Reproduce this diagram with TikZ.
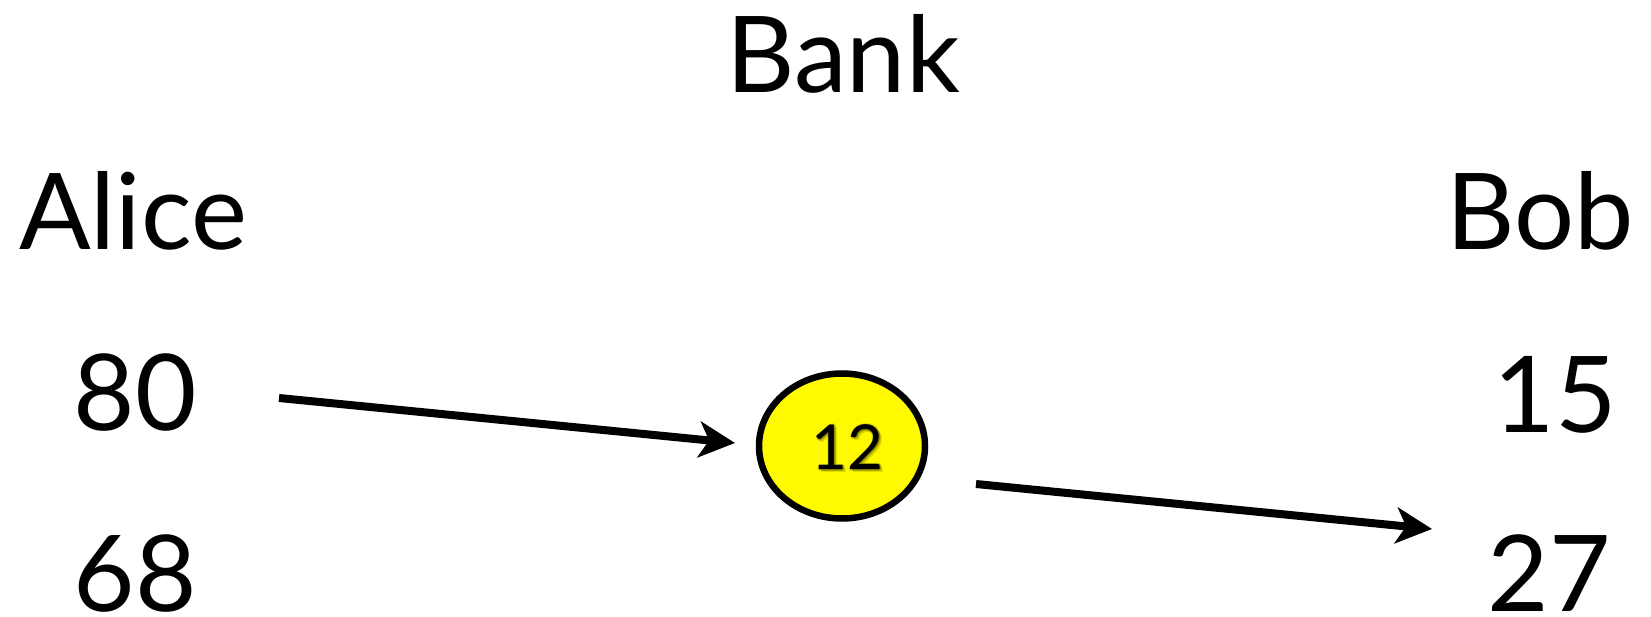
\documentclass[tikz,border=0pt]{standalone}
\usepackage{fontspec}
\setmainfont{Lato}
\usetikzlibrary{arrows.meta,shapes.geometric}
\definecolor{bankyellow}{RGB}{255,250,0}
\begin{document}
\begin{tikzpicture}[x=1pt,y=-1pt,
  big/.style={font=\fontsize{106}{110}\selectfont, anchor=base, inner sep=0pt},
  conn/.style={line width=8pt, -{Stealth[length=36pt,width=36pt,inset=10pt]}},
  coin/.style={ellipse, draw, line width=6.5pt, fill=bankyellow, minimum width=166pt, minimum height=145pt, inner sep=0pt},
  coinlabel/.style={font=\fontsize{62}{64}\selectfont, anchor=base, inner sep=0pt}]
\useasboundingbox (0,0) rectangle (1651,617);
\node[big] (bank) at (843,93) {Bank};
\node[big] (alice) at (133,250) {Alice};
\node[big] (bob) at (1540,250) {Bob};
\node[big] (a80) at (135,430) {80};
\node[big] (a68) at (135,611) {68};
\node[big] (b15) at (1555,432) {15};
\node[big] (b27) at (1549,611) {27};
\node[coin] (coin) at (842,446) {};
\foreach \dx/\dy in {1.5/1.5,-1/1,1/-1,2.5/2.5,0/2,2/0,3/3}{
  \node[coinlabel, opacity=0.12] at (847+\dx,469+\dy) {12};
}
\node[coinlabel] (twelve) at (847,469) {12};
\coordinate (s1) at (279,398);
\coordinate (e1) at (735,443);
\coordinate (s2) at (976,484);
\coordinate (e2) at (1432,529);
\draw[conn] (s1) -- (e1);
\draw[conn] (s2) -- (e2);
\end{tikzpicture}
\end{document}
